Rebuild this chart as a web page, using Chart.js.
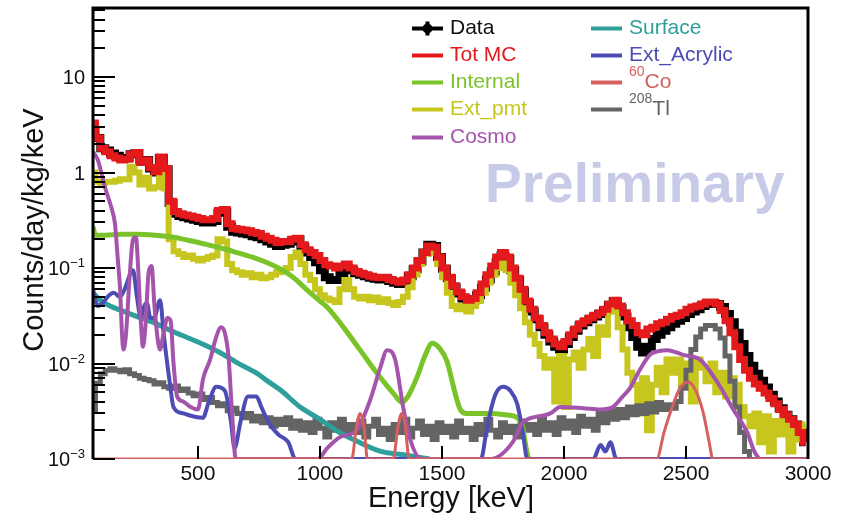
<!DOCTYPE html>
<html>
<head>
<meta charset="utf-8">
<script src="https://cdn.jsdelivr.net/npm/chart.js@4.4.1/dist/chart.umd.min.js"></script>
<style>
  html, body { margin: 0; padding: 0; background: #fff; }
  canvas { display: block; }
</style>
</head>
<body>
<canvas id="spectrum" width="847" height="517" style="width:847px;height:517px"></canvas>
<script>
// ---- Energy binning (keV): 20 keV bins, centres from 70 to 2990 ----
const binStart = 70, binWidth = 20, binCount = 147;
const binCenters = [];
for (let i = 0; i < binCount; i++) binCenters.push(binStart + i * binWidth);

// ---- Axis tick values ----
const xTickValues = [500, 1000, 1500, 2000, 2500, 3000];
const yDecadeExponents = [-3, -2, -1, 0, 1];

// ---- Histogram series (counts/day/kg/keV per 20 keV bin) ----
const dataCounts = [
  2.7, 2.3, 1.8, 1.7, 1.58, 1.5, 1.42, 1.42, 1.55, 1.6,
  1.3, 1.35, 1.1, 1.0, 1.42, 1.08, 0.48, 0.37, 0.35, 0.34,
  0.33, 0.32, 0.31, 0.3, 0.3, 0.31, 0.38, 0.39, 0.27, 0.24,
  0.235, 0.23, 0.225, 0.215, 0.21, 0.2, 0.19, 0.18, 0.17, 0.175,
  0.18, 0.19, 0.2, 0.165, 0.145, 0.13, 0.115, 0.095, 0.08, 0.075,
  0.075, 0.085, 0.1, 0.095, 0.088, 0.085, 0.082, 0.079, 0.077, 0.076,
  0.077, 0.073, 0.07, 0.068, 0.072, 0.082, 0.097, 0.118, 0.145, 0.175,
  0.17, 0.13, 0.098, 0.078, 0.063, 0.054, 0.048, 0.044, 0.046, 0.052,
  0.062, 0.076, 0.092, 0.115, 0.135, 0.125, 0.095, 0.075, 0.057, 0.043,
  0.035, 0.029, 0.024, 0.02, 0.017, 0.015, 0.014, 0.016, 0.019, 0.022,
  0.025, 0.027, 0.029, 0.031, 0.033, 0.036, 0.041, 0.045, 0.038, 0.031,
  0.024, 0.019, 0.015, 0.013, 0.015, 0.018, 0.02, 0.022, 0.024, 0.026,
  0.028, 0.03, 0.033, 0.035, 0.037, 0.04, 0.042, 0.043, 0.042, 0.039,
  0.033, 0.027, 0.021, 0.016, 0.012, 0.0095, 0.0078, 0.0066, 0.0056, 0.0047,
  0.004, 0.0034, 0.0029, 0.0026, 0.0023, 0.0019, 0.0015
];
const totMC = [
  3.3, 2.3, 1.8, 1.65, 1.5, 1.42, 1.35, 1.38, 1.55, 1.62,
  1.28, 1.35, 1.12, 1.02, 1.45, 1.1, 0.5, 0.39, 0.37, 0.36,
  0.35, 0.34, 0.33, 0.32, 0.32, 0.33, 0.40, 0.41, 0.29, 0.26,
  0.255, 0.25, 0.245, 0.235, 0.23, 0.215, 0.205, 0.195, 0.185, 0.19,
  0.19, 0.2, 0.205, 0.175, 0.155, 0.145, 0.135, 0.12, 0.108, 0.105,
  0.1, 0.105, 0.11, 0.1, 0.092, 0.088, 0.085, 0.082, 0.08, 0.079,
  0.08, 0.076, 0.073, 0.071, 0.075, 0.085, 0.1, 0.12, 0.145, 0.17,
  0.165, 0.13, 0.1, 0.08, 0.065, 0.056, 0.05, 0.046, 0.048, 0.055,
  0.068, 0.085, 0.105, 0.13, 0.145, 0.13, 0.1, 0.078, 0.06, 0.045,
  0.037, 0.03, 0.025, 0.021, 0.018, 0.016, 0.015, 0.017, 0.02, 0.023,
  0.026, 0.028, 0.03, 0.032, 0.034, 0.037, 0.042, 0.046, 0.04, 0.034,
  0.028, 0.025, 0.021, 0.02, 0.023, 0.024, 0.026, 0.027, 0.029, 0.031,
  0.032, 0.034, 0.037, 0.039, 0.04, 0.042, 0.044, 0.044, 0.042, 0.036,
  0.028, 0.021, 0.015, 0.011, 0.0085, 0.007, 0.0061, 0.0055, 0.0049, 0.0043,
  0.0038, 0.0033, 0.0029, 0.0026, 0.0023, 0.0019, 0.0015
];
const extPmt = [
  1.0, 0.8, 0.78, 0.8, 0.8, 0.82, 0.85, 0.85, 1.15, 1.0,
  0.75, 0.88, 0.68, 0.7, 0.98, 0.68, 0.2, 0.15, 0.14, 0.13,
  0.135, 0.125, 0.12, 0.125, 0.13, 0.135, 0.2, 0.19, 0.11, 0.095,
  0.09, 0.085, 0.088, 0.08, 0.085, 0.078, 0.08, 0.085, 0.09, 0.095,
  0.1, 0.13, 0.145, 0.11, 0.085, 0.075, 0.06, 0.052, 0.048, 0.046,
  0.044, 0.06, 0.075, 0.06, 0.05, 0.048, 0.05, 0.046, 0.049, 0.044,
  0.047, 0.043, 0.041, 0.044, 0.05, 0.063, 0.085, 0.11, 0.14, 0.155,
  0.145, 0.11, 0.08, 0.055, 0.04, 0.037, 0.04, 0.035, 0.04, 0.045,
  0.055, 0.07, 0.085, 0.1, 0.112, 0.095, 0.07, 0.052, 0.038, 0.027,
  0.02, 0.016, 0.012, 0.009, 0.011, 0.004, 0.012, 0.0035, 0.011, 0.013,
  0.009, 0.014, 0.018, 0.012, 0.024, 0.02, 0.035, 0.042, 0.024, 0.014,
  0.008, 0.006, 0.003, 0.007, 0.002, 0.006, 0.009, 0.005, 0.011, 0.008,
  0.011, 0.006, 0.01, 0.004, 0.011, 0.009, 0.0065, 0.01, 0.005, 0.008,
  0.0045, 0.007, 0.006, 0.0035, 0.0028, 0.0022, 0.003, 0.0015, 0.0028, 0.0012,
  0.0025, 0.0018, 0.0026, 0.0012, 0.0022, 0.0016, 0.0023
];
const tl208 = [
  0.0033, 0.0062, 0.0078, 0.0085, 0.0088, 0.0085, 0.0082, 0.0086, 0.0078, 0.0075,
  0.007, 0.0068, 0.0066, 0.0061, 0.0063, 0.0057, 0.0055, 0.0058, 0.0052, 0.0054,
  0.0049, 0.0046, 0.0048, 0.0042, 0.0044, 0.0039, 0.0036, 0.0038, 0.0032, 0.0034,
  0.003, 0.0027, 0.003, 0.0025, 0.0028, 0.0024, 0.0027, 0.0022, 0.0026, 0.0023,
  0.0027, 0.0021, 0.0025, 0.002, 0.0024, 0.0019, 0.0026, 0.0021, 0.0017, 0.0024,
  0.002, 0.0026, 0.0018, 0.0023, 0.0019, 0.0025, 0.0017, 0.0022, 0.0026, 0.0018,
  0.0021, 0.0016, 0.0023, 0.0019, 0.0026, 0.0017, 0.0021, 0.0025, 0.0018, 0.0022,
  0.0016, 0.0024, 0.0019, 0.0022, 0.0017, 0.0025, 0.0019, 0.0021, 0.0016, 0.0023,
  0.0018, 0.0026, 0.002, 0.0017, 0.0024, 0.0019, 0.0022, 0.0017, 0.0025, 0.002,
  0.0023, 0.0018, 0.0026, 0.002, 0.0024, 0.0018, 0.0027, 0.0021, 0.0025, 0.0019,
  0.0028, 0.0022, 0.0026, 0.002, 0.003, 0.0024, 0.0032, 0.0026, 0.0033, 0.0027,
  0.0035, 0.0029, 0.0036, 0.003, 0.0038, 0.0031, 0.0039, 0.0033, 0.0037, 0.0034,
  0.004, 0.0055, 0.0085, 0.014, 0.019, 0.023, 0.025, 0.025, 0.023, 0.0185,
  0.012, 0.0065, 0.0035, 0.0019, 0.0012, 0.001
];

// ---- Smooth model components: energy (keV) / rate pairs ----
const internalE = [70, 80, 120, 185, 250, 324, 400, 460, 530, 595, 660, 734, 787, 840, 890, 950, 1000, 1029, 1095, 1165, 1234, 1300, 1337, 1360, 1398, 1430, 1460, 1490, 1521, 1545, 1562, 1575, 1600, 1700, 1760, 1808, 1830, 1845, 1855];
const internalV = [0.27, 0.22, 0.22, 0.225, 0.225, 0.22, 0.21, 0.195, 0.178, 0.162, 0.145, 0.127, 0.113, 0.097, 0.08, 0.058, 0.045, 0.039, 0.0242, 0.0138, 0.0079, 0.0049, 0.0039, 0.0045, 0.0072, 0.012, 0.0163, 0.0145, 0.0105, 0.006, 0.0041, 0.0033, 0.003, 0.003, 0.0029, 0.0027, 0.0022, 0.0013, 0.001];

const surfaceE = [70, 100, 140, 185, 250, 324, 390, 460, 530, 595, 660, 734, 787, 837, 919, 1000, 1080, 1160, 1250, 1350, 1450];
const surfaceV = [0.055, 0.046, 0.04, 0.036, 0.031, 0.0265, 0.022, 0.0185, 0.0155, 0.0128, 0.0102, 0.0081, 0.0065, 0.0053, 0.0035, 0.0026, 0.0019, 0.0015, 0.0012, 0.0011, 0.001];

const cosmoE = [70, 90, 119, 144, 160, 172, 181, 189, 195, 205, 220, 234, 246, 255, 265, 275, 285, 298, 310, 322, 335, 345, 358, 375, 388, 400, 415, 440, 470, 500, 521, 550, 575, 595, 610, 625, 640, 655,
  990, 1030, 1083, 1150, 1205, 1247, 1275, 1308, 1341, 1370, 1415,
  1700, 1790, 1830, 1850, 1944, 1984, 2080, 2149, 2200, 2240, 2272, 2310, 2354, 2390, 2423, 2489, 2559, 2628, 2694, 2751, 2780, 2800];
const cosmoV = [1.65, 1.35, 0.7, 0.44, 0.29, 0.12, 0.06, 0.02, 0.014, 0.02, 0.08, 0.2, 0.21, 0.1, 0.03, 0.015, 0.025, 0.09, 0.105, 0.04, 0.018, 0.014, 0.02, 0.03, 0.028, 0.01, 0.0045, 0.004, 0.0035, 0.0033, 0.0069, 0.011, 0.019, 0.024, 0.021, 0.012, 0.003, 0.001,
  0.001, 0.0013, 0.0017, 0.002, 0.0041, 0.009, 0.0138, 0.011, 0.0035, 0.0016, 0.001,
  0.001, 0.0015, 0.0024, 0.0026, 0.003, 0.0035, 0.0034, 0.0033, 0.0035, 0.0045, 0.0056, 0.0085, 0.0125, 0.0135, 0.0138, 0.0123, 0.0109, 0.0064, 0.0033, 0.0019, 0.0012, 0.001];

const acrylicE = [70, 90, 110, 130, 155, 180, 200, 225, 234, 250, 266, 280, 291, 305, 320, 345, 360, 385, 400, 440, 480, 520, 545, 575, 610, 635, 650, 675, 705, 740, 760, 790, 830, 870, 900,
  1660, 1680, 1697, 1720, 1751, 1780, 1808, 1830, 1850,
  2120, 2150, 2170, 2190, 2215, 3000];
const acrylicV = [0.059, 0.04, 0.043, 0.05, 0.055, 0.05, 0.06, 0.09, 0.095, 0.05, 0.03, 0.04, 0.043, 0.03, 0.03, 0.046, 0.02, 0.0062, 0.0035, 0.003, 0.0028, 0.0027, 0.004, 0.0057, 0.0052, 0.0025, 0.0013, 0.0025, 0.0045, 0.0045, 0.0035, 0.0024, 0.0018, 0.0015, 0.001,
  0.001, 0.0018, 0.003, 0.0048, 0.0057, 0.0052, 0.0038, 0.002, 0.001,
  0.001, 0.0014, 0.0012, 0.0015, 0.001, 0.001];

const co60E = [70, 1130, 1150, 1165, 1180, 1195, 1300, 1320, 1335, 1350, 1365, 2380, 2410, 2440, 2475, 2509, 2540, 2570, 2595, 2610, 3000];
const co60V = [0.001, 0.001, 0.0022, 0.003, 0.0022, 0.001, 0.001, 0.0022, 0.003, 0.0022, 0.001, 0.001, 0.0019, 0.0033, 0.0055, 0.0064, 0.0052, 0.0031, 0.0015, 0.001, 0.001];

// ---- Build point lists for the chart ----
const histPoints = vals => vals.map((v, i) => ({ x: binCenters[i], y: v }));
const curvePoints = (es, vs) => es.map((e, i) => ({ x: e, y: vs[i] }));

const FONT = '"Liberation Sans", Arial, Helvetica, sans-serif';

function histSet(label, vals, color, width, order) {
  return { label, data: histPoints(vals), borderColor: color, backgroundColor: color,
    borderWidth: width, stepped: 'middle', pointRadius: 0, order,
    borderJoinStyle: 'miter', borderCapStyle: 'butt', fill: false };
}
function curveSet(label, es, vs, color, width, order) {
  return { label, data: curvePoints(es, vs), borderColor: color, backgroundColor: color,
    borderWidth: width, cubicInterpolationMode: 'monotone', pointRadius: 0, order,
    borderJoinStyle: 'round', borderCapStyle: 'butt', fill: false };
}

const datasets = [
  histSet('Data', dataCounts, '#000000', 8, 10),
  histSet('Tot MC', totMC, '#e3191c', 7, 1),
  curveSet('Internal', internalE, internalV, '#7ac42a', 5, 6),
  histSet('Ext_pmt', extPmt, '#c6c61e', 6, 9),
  curveSet('Cosmo', cosmoE, cosmoV, '#a455ab', 4, 4),
  curveSet('Surface', surfaceE, surfaceV, '#2e9f9b', 5, 7),
  curveSet('Ext_Acrylic', acrylicE, acrylicV, '#4c4cb4', 4, 5),
  curveSet('60Co', co60E, co60V, '#d4615f', 3, 3),
  histSet('208Tl', tl208, '#646464', 5, 8)
];

// Legend layout: two columns, listed top to bottom
const legendColumns = [
  { markerX: 412, textX: 450, labels: ['Data', 'Tot MC', 'Internal', 'Ext_pmt', 'Cosmo'] },
  { markerX: 591, textX: 629, labels: ['Surface', 'Ext_Acrylic', '60Co', '208Tl'] }
];
const legendBaselines = [34, 61, 88, 115, 143];

// ROOT-like frame, inward ticks, labels, legend and watermark
const rootStyle = {
  id: 'rootStyle',
  afterDatasetsDraw(chart) {
    const { ctx, chartArea: a, scales: { x, y } } = chart;
    ctx.save();
    ctx.strokeStyle = '#000';
    ctx.lineWidth = 3;
    ctx.beginPath();
    ctx.moveTo(a.left, a.bottom);
    ctx.lineTo(a.left, a.top);
    ctx.lineTo(a.right, a.top);
    ctx.lineTo(a.right, a.bottom);
    ctx.stroke();

    ctx.lineWidth = 2;
    for (const p of yDecadeExponents) {
      for (let m = 1; m <= 9; m++) {
        const v = m * Math.pow(10, p);
        if (v < y.min || v > y.max) continue;
        const py = Math.round(y.getPixelForValue(v));
        const len = m === 1 ? 22 : 12;
        ctx.beginPath();
        ctx.moveTo(a.left, py);
        ctx.lineTo(a.left + len, py);
        ctx.stroke();
      }
    }
    for (const e of xTickValues) {
      const px = Math.round(x.getPixelForValue(e));
      ctx.beginPath();
      ctx.moveTo(px, a.bottom);
      ctx.lineTo(px, a.bottom - 13);
      ctx.stroke();
    }
    ctx.restore();
  },
  afterDraw(chart) {
    const { ctx, chartArea: a, scales: { x, y } } = chart;
    ctx.save();
    ctx.fillStyle = '#111';

    // x tick labels
    ctx.font = '21px ' + FONT;
    ctx.textAlign = 'center';
    ctx.textBaseline = 'alphabetic';
    for (const e of xTickValues) {
      ctx.fillText(String(e), x.getPixelForValue(e), 480);
    }

    // y tick labels (powers of ten)
    const right = 85;
    for (const p of yDecadeExponents) {
      const py = y.getPixelForValue(Math.pow(10, p));
      ctx.textAlign = 'right';
      if (p === 0 || p === 1) {
        ctx.font = '20px ' + FONT;
        ctx.fillText(p === 0 ? '1' : '10', right, py + 7);
      } else {
        const sup = '\u2212' + String(-p);
        ctx.font = '13px ' + FONT;
        const sw = ctx.measureText(sup).width;
        ctx.fillText(sup, right, py - 1);
        ctx.font = '20px ' + FONT;
        ctx.fillText('10', right - sw, py + 7);
      }
    }

    // axis titles
    ctx.font = '29px ' + FONT;
    ctx.textAlign = 'center';
    ctx.fillText('Energy [keV]', 451, 507);
    ctx.save();
    ctx.translate(43, 230);
    ctx.rotate(-Math.PI / 2);
    ctx.fillText('Counts/day/kg/keV', 0, 0);
    ctx.restore();

    // watermark
    ctx.fillStyle = '#c8cbe8';
    ctx.textAlign = 'left';
    let size = 55;
    ctx.font = 'bold ' + size + 'px ' + FONT;
    const w = ctx.measureText('Preliminary').width;
    size = Math.round(size * 300 / w);
    ctx.font = 'bold ' + size + 'px ' + FONT;
    ctx.fillText('Preliminary', 485, 202);

    // legend
    const byLabel = {};
    chart.data.datasets.forEach(d => { byLabel[d.label] = d; });
    for (const col of legendColumns) {
      col.labels.forEach((label, i) => {
        const ds = byLabel[label];
        const base = legendBaselines[i];
        const my = base - 5.5;
        ctx.strokeStyle = ds.borderColor;
        ctx.lineWidth = 4;
        ctx.beginPath();
        ctx.moveTo(col.markerX, my);
        ctx.lineTo(col.markerX + 31, my);
        ctx.stroke();
        if (label === 'Data') {
          ctx.fillStyle = '#000';
          ctx.beginPath();
          ctx.arc(col.markerX + 15.5, my, 5, 0, Math.PI * 2);
          ctx.fill();
          ctx.fillRect(col.markerX + 13.5, my - 7, 4, 14);
        }
        ctx.fillStyle = label === 'Data' ? '#111' : ds.borderColor;
        ctx.textAlign = 'left';
        const m = /^(\d+)(\D+)$/.exec(label);
        if (m) {
          ctx.font = '14px ' + FONT;
          ctx.fillText(m[1], col.textX, base - 12);
          const sw = ctx.measureText(m[1]).width;
          ctx.font = '21px ' + FONT;
          ctx.fillText(m[2], col.textX + sw, base);
        } else {
          ctx.font = '21px ' + FONT;
          ctx.fillText(label, col.textX, base);
        }
      });
    }
    ctx.restore();
  }
};

new Chart(document.getElementById('spectrum'), {
  type: 'line',
  data: { datasets },
  options: {
    responsive: false,
    animation: false,
    events: [],
    layout: { padding: { top: 8, right: 39, left: 0, bottom: 0 } },
    scales: {
      x: {
        type: 'linear', min: 70, max: 3000,
        grid: { display: false }, border: { display: false }, ticks: { display: false },
        afterFit: s => { s.height = 58; }
      },
      y: {
        type: 'logarithmic', min: 0.001, max: 52.8,
        grid: { display: false }, border: { display: false }, ticks: { display: false },
        afterFit: s => { s.width = 93; }
      }
    },
    plugins: { legend: { display: false }, tooltip: { enabled: false } }
  },
  plugins: [rootStyle]
});
</script>
</body>
</html>
